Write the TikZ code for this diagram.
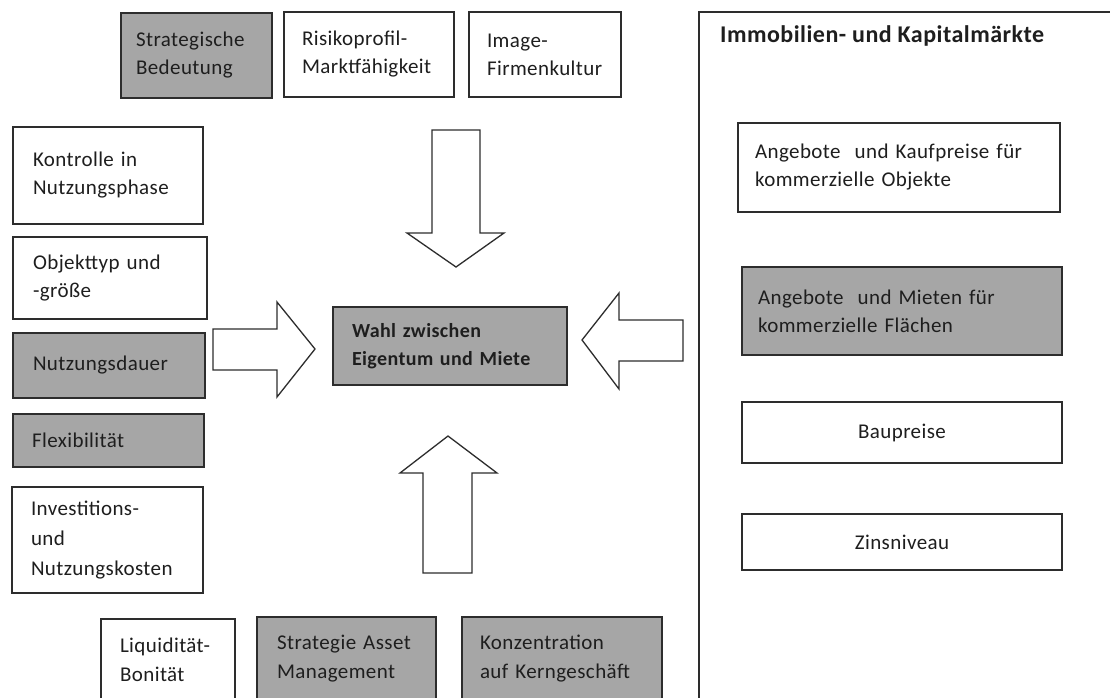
\documentclass[tikz,border=0pt]{standalone}
\usepackage{fontspec}
\setmainfont{Carlito}[LetterSpace=2]
\definecolor{boxgray}{RGB}{166,166,166}
\definecolor{linecol}{RGB}{45,45,45}
\definecolor{txtcol}{RGB}{30,30,30}
\tikzset{
  box/.style={draw=linecol, line width=1.6pt, rectangle, anchor=north west,
    inner ysep=0pt, outer sep=0pt, align=left, text=txtcol,
    font=\fontsize{21}{28}\selectfont},
  cbox/.style={box, align=center},
  greybox/.style={fill=boxgray},
  blockarrow/.style={draw=linecol, line width=1.3pt, fill=white, line join=miter},
  panel/.style={draw=linecol, line width=1.6pt, rectangle, anchor=north west, outer sep=0pt, inner sep=0pt}
}
\begin{document}
\begin{tikzpicture}[x=1pt,y=-1pt]
\useasboundingbox (0,0) rectangle (1110,697);
\clip (0,0) rectangle (1110,697);
\fill[white] (0,0) rectangle (1110,697);

% right panel
\node[panel, minimum width=420pt, minimum height=700pt] (mk) at (699,12) {};
\node[anchor=base west, inner sep=0pt, text=txtcol, font=\fontsize{24}{28}\bfseries\selectfont] (mkt) at (720,42) {Immobilien- und Kapitalmärkte};

% top row
\node[box, greybox, minimum height=85pt, text width=121pt, inner xsep=15pt] (sb) at (121,13) {Strategische\\Bedeutung};
\node[box, minimum height=85pt, text width=134pt, inner xsep=18pt] (rm) at (284,12) {Risikoprofil-\\Marktfähigkeit};
\node[box, minimum height=85pt, text width=116pt, inner xsep=18pt] (im) at (469,12) {Image-\\Firmenkultur};

% left column
\node[box, minimum height=97pt, text width=150pt, inner xsep=20pt] (ko) at (13,127) {Kontrolle in\\Nutzungsphase};
\node[box, minimum height=82pt, text width=154pt, inner xsep=20pt] (ob) at (13,237) {Objekttyp und\\-größe};
\node[box, greybox, minimum height=65pt, text width=152pt, inner xsep=20pt] (nd) at (13,333) {Nutzungsdauer};
\node[box, greybox, minimum height=53pt, text width=153pt, inner xsep=19pt] (fl) at (13,414) {Flexibilität};
\node[box, minimum height=106pt, text width=153pt, inner xsep=19pt, font=\fontsize{21}{30}\selectfont] (iv) at (12,487) {Investitions-\\und\\Nutzungskosten};

% bottom row
\node[box, minimum height=82pt, text width=96pt, inner xsep=19pt, font=\fontsize{21}{29}\selectfont] (li) at (101,619) {Liquidität-\\Bonität};
\node[box, greybox, minimum height=84pt, text width=139pt, inner xsep=20pt, font=\fontsize{21}{29}\selectfont] (sa) at (257,617) {Strategie Asset\\Management};
\node[box, greybox, minimum height=84pt, text width=164pt, inner xsep=18pt, font=\fontsize{21}{29}\selectfont] (kg) at (462,617) {Konzentration\\auf Kerngeschäft};

% centre
\node[box, greybox, minimum height=78pt, text width=196pt, inner xsep=19pt, font=\fontsize{20}{28}\bfseries\selectfont] (ce) at (333,307) {Wahl zwischen\\Eigentum und Miete};

% right panel boxes
\node[box, minimum height=89pt, text width=288pt, inner xsep=17pt] (kp) at (738,123) {Angebote\ \ und Kaufpreise für\\kommerzielle Objekte};
\node[box, greybox, minimum height=88pt, text width=288pt, inner xsep=16pt] (mf) at (742,267) {Angebote\ \ und Mieten für\\kommerzielle Flächen};
\node[cbox, minimum height=61pt, text width=288pt, inner xsep=16pt] (bp) at (742,402) {Baupreise};
\node[cbox, minimum height=56pt, text width=288pt, inner xsep=16pt] (zn) at (742,514) {Zinsniveau};

% block arrows
\draw[blockarrow] (432,130) -- (480,130) -- (480,233) -- (504,233) -- (456,267) -- (407,233) -- (432,233) -- cycle;
\draw[blockarrow] (213,329) -- (277,329) -- (277,302) -- (315,349) -- (277,397) -- (277,370) -- (213,370) -- cycle;
\draw[blockarrow] (683,320) -- (619,320) -- (619,293) -- (582,340) -- (619,389) -- (619,361) -- (683,361) -- cycle;
\draw[blockarrow] (423,573) -- (423,473) -- (400,473) -- (448,436) -- (497,473) -- (472,473) -- (472,573) -- cycle;
\end{tikzpicture}
\end{document}
